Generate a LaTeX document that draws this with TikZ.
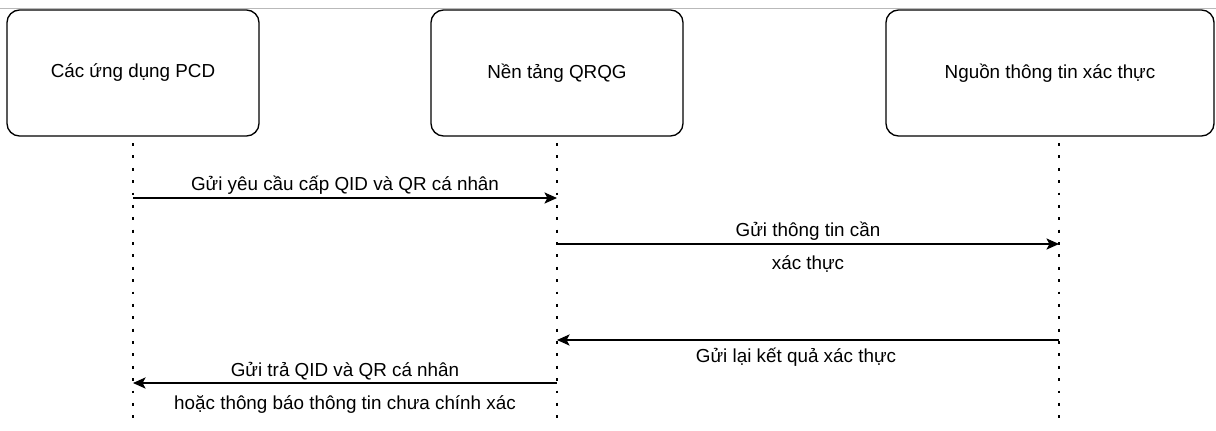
\documentclass[tikz,border=0pt]{standalone}
\usepackage{fontspec}
\setmainfont{Liberation Sans}
\usetikzlibrary{positioning}
\usetikzlibrary{arrows.meta}
\tikzset{
  actor/.style={
    rectangle,
    draw=black,
    line width=0.95pt,
    rounded corners=9pt,
    minimum height=3.15cm,
    font=\fontsize{13.4}{16}\selectfont},
}

\begin{document}
\begin{tikzpicture}[
  x=0.025cm, y=-0.025cm,
  msg/.style={draw,line width=0.85pt,-{Stealth[length=9pt,width=8pt,inset=2.2pt]}},
  life/.style={line width=2.1pt,dash pattern=on 2.1pt off 6.7pt},
  lbl/.style={font=\fontsize{13.4}{16}\selectfont,inner sep=0pt}]
  \pgfmathsetmacro{\ytop}{143}
  \pgfmathsetmacro{\ybot}{422}
  \useasboundingbox (0,0) rectangle (1216,430);

  % top rule
  \coordinate (rule-l) at (0,8);
  \coordinate (rule-r) at (1216,8);
  \draw[gray!55,line width=0.6pt] (rule-l) -- (rule-r);

  \node[actor,minimum width=6.3cm] (pcd) at (133,73) {Các ứng dụng PCD};
  \node[actor,minimum width=6.3cm] (qrqg) at (557,73) {Nền tảng QRQG};
  \node[actor,minimum width=8.2cm] (nguon) at (1050,73) {Nguồn thông tin xác thực};

  % lifelines
  \foreach \n/\x in {pcd/133,qrqg/557,nguon/1059} {
    \coordinate (\n-top) at (\x,\ytop);
    \coordinate (\n-end) at (\x,\ybot);
    \draw[life] (\n-top) -- (\n-end);
  }

  % messages
  \foreach \a/\b/\y [count=\i from 1] in {pcd/qrqg/198,qrqg/nguon/244,nguon/qrqg/340,qrqg/pcd/383} {
    \coordinate (m\i-from) at (\a-top |- 0,\y);
    \coordinate (m\i-to) at (\b-top |- 0,\y);
    \draw[msg] (m\i-from) -- (m\i-to);
  }

  \node[lbl] (l1) at (345,185) {Gửi yêu cầu cấp QID và QR cá nhân};
  \node[lbl] (l2a) at (808,231) {Gửi thông tin cần};
  \node[lbl] (l2b) at (808,264) {xác thực};
  \node[lbl] (l3) at (796,357) {Gửi lại kết quả xác thực};
  \node[lbl] (l4a) at (345,371) {Gửi trả QID và QR cá nhân};
  \node[lbl] (l4b) at (345,404) {hoặc thông báo thông tin chưa chính xác};
\end{tikzpicture}
\end{document}
